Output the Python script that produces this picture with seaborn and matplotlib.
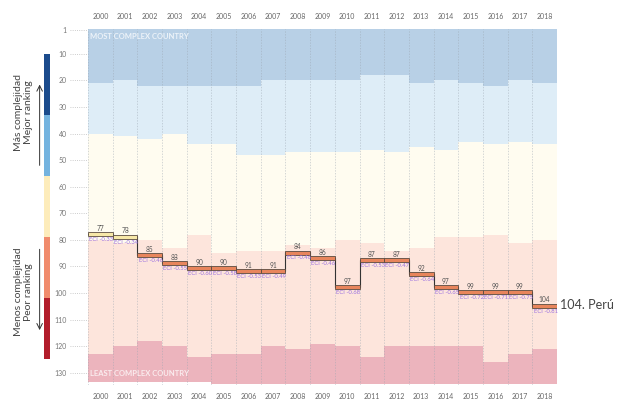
import matplotlib.pyplot as plt
import numpy as np
import pandas as pd
import seaborn as sns
from matplotlib.patches import Rectangle

# Data
years = list(range(2000, 2019))
peru_rank = [77, 78, 85, 88, 90, 90, 91, 91, 84, 86, 97, 87, 87, 92, 97, 99, 99, 99, 104]
peru_eci = [-0.33, -0.34, -0.46, -0.55, -0.60, -0.58, -0.53, -0.49, -0.46, -0.46,
            -0.68, -0.53, -0.47, -0.64, -0.65, -0.72, -0.71, -0.75, -0.81]
# band limits (rank where each colour band ends) per year
top_end = [21, 20, 22, 22, 22, 22, 22, 20, 20, 20, 20, 18, 18, 21, 20, 21, 22, 20, 21]
blue_end = [40, 41, 42, 40, 44, 44, 48, 48, 47, 47, 47, 46, 47, 45, 46, 43, 44, 43, 44]
cream_end = [80, 81, 80, 83, 78, 85, 84, 84, 82, 83, 80, 81, 84, 83, 79, 79, 78, 81, 80]
pink_end = [123, 120, 118, 120, 124, 123, 123, 120, 121, 119, 120, 124, 120, 120, 120, 120, 126, 123, 121]
n_countries = [133, 133, 133, 133, 133, 134, 134, 134, 134, 134, 134, 134, 134, 134, 134, 134, 134, 134, 134]

df = pd.DataFrame({'year': years, 'rank': peru_rank, 'eci': peru_eci,
                   'top': top_end, 'blue': blue_end, 'cream': cream_end,
                   'pink': pink_end, 'total': n_countries})

sns.set_style('white')
plt.rcParams['font.family'] = ['Lato', 'DejaVu Sans']

fig = plt.figure(figsize=(6.23, 4.03), dpi=100)
ax = fig.add_axes([69.5 / 623, 1 - 385 / 403, (557 - 69.5) / 623, (385 - 28.6) / 403])

x = np.arange(len(years))
starts = [np.full(len(x), 0.5), df['top'], df['blue'], df['cream'], df['pink']]
ends = [df['top'], df['blue'], df['cream'], df['pink'], df['total'] + 0.3]
band_colors = ['#b8d0e6', '#deedf7', '#fffcf0', '#fde5dc', '#ecb4bd']
for s, e, c in zip(starts, ends, band_colors):
    ax.bar(x, np.asarray(e) - np.asarray(s), bottom=s, width=1, align='edge',
           color=c, linewidth=0, zorder=1)

for b in range(len(x) + 1):
    ax.axvline(b, ls=(0, (2, 2)), color='#9aa5b0', lw=0.5, alpha=0.6, zorder=2)

ax.text(0.1, 3.4, 'MOST COMPLEX COUNTRY', color='white', alpha=0.75, fontsize=5.5,
        fontweight='bold', va='center', zorder=3)
ax.text(0.1, 130.3, 'LEAST COMPLEX COUNTRY', color='white', alpha=0.75, fontsize=5.5,
        fontweight='bold', va='center', zorder=3)

# Peru step line
sns.lineplot(x=np.append(x, len(x)), y=np.append(df['rank'], df['rank'].iloc[-1]) + 0.7,
             drawstyle='steps-post', color='#333333', lw=0.8, ax=ax,
             estimator=None, legend=False, zorder=3)

for i, (r, e) in enumerate(zip(df['rank'], df['eci'])):
    fc = '#f7e8a8' if r < 80 else '#e8855c'
    ax.add_patch(Rectangle((i, r), 1, 1.5, facecolor=fc, edgecolor='#5a4a40',
                           lw=0.6, zorder=4))
    ax.text(i + 0.5, r - 1.4, str(r), ha='center', va='center', fontsize=4.8,
            color='#555555', zorder=5)
    ax.text(i + 0.05, r + 2.8, f'ECI {e:.2f}', ha='left', va='center', fontsize=4.2,
            color='#9a70e0', zorder=5)

# left colour scale
scale_start = [10, 33, 56, 79, 102]
scale_colors = ['#1b4b8c', '#74b3df', '#fdecbb', '#f08b6c', '#b21d2b']
ax.bar([-1.78] * 5, [23] * 5, bottom=scale_start, width=0.245, align='edge',
       color=scale_colors, linewidth=0, clip_on=False)

ax.annotate('', xy=(-1.96, 20.5), xytext=(-1.96, 53), annotation_clip=False,
            arrowprops=dict(arrowstyle='->', color='#333333', lw=0.7))
ax.annotate('', xy=(-1.96, 115), xytext=(-1.96, 82.5), annotation_clip=False,
            arrowprops=dict(arrowstyle='->', color='#333333', lw=0.7))
ax.text(-2.62, 32, 'Más complejidad\nMejor ranking', rotation=90, ha='center',
        va='center', fontsize=7.5, color='#444444', linespacing=1.05,
        multialignment='center', clip_on=False)
ax.text(-2.62, 99.5, 'Menos complejidad\nPeor ranking', rotation=90, ha='center',
        va='center', fontsize=7.5, color='#444444', linespacing=1.05,
        multialignment='center', clip_on=False)

ax.text(19.12, 104.6, '104. Perú', ha='left', va='center', fontsize=9,
        color='#444444', clip_on=False)

ax.set_xlim(-0.75, len(x))
ax.set_ylim(134.6, 0.5)
ax.set_yticks([1] + list(range(10, 131, 10)))
ax.set_xticks(x + 0.5)
ax.set_xticklabels(years)
ax.tick_params(axis='x', top=True, labeltop=True, bottom=True, labelbottom=True,
               length=0, pad=6, labelsize=5, labelcolor='#666666')
ax.tick_params(axis='y', length=0, pad=2, labelsize=5, labelcolor='#777777')
ax.yaxis.grid(True, ls=':', color='#bbbbbb', lw=0.6)
ax.set_axisbelow(True)
ax.set_xlabel('')
ax.set_ylabel('')
sns.despine(ax=ax, left=True, bottom=True)

fig.savefig('out.png', dpi=100)
